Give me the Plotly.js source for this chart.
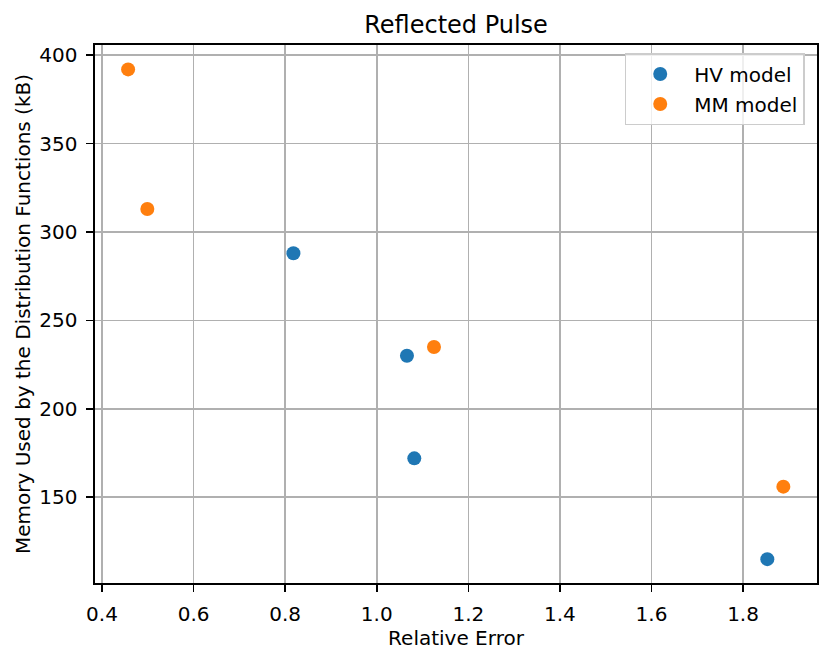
<!DOCTYPE html>
<html>
<head>
<meta charset="utf-8">
<script src="https://cdn.plot.ly/plotly-3.0.1.min.js"></script>
<style>html,body{margin:0;padding:0;background:#fff;}#chart{width:831px;height:659px;}</style>
</head>
<body>
<div id="chart"></div>
<script>
const seriesNames = ["HV model", "MM model"];
const hvError = [0.818, 1.066, 1.082, 1.853];
const hvMemory = [288, 230, 172, 115];
const mmError = [0.457, 0.499, 1.125, 1.888];
const mmMemory = [392, 313, 235, 156];
const xTicks = [0.4, 0.6, 0.8, 1.0, 1.2, 1.4, 1.6, 1.8];
const xTickText = ["0.4", "0.6", "0.8", "1.0", "1.2", "1.4", "1.6", "1.8"];
const yTicks = [150, 200, 250, 300, 350, 400];

const font = "DejaVu Sans, sans-serif";
const traces = [
  {x: hvError, y: hvMemory, name: seriesNames[0], type: "scatter", mode: "markers",
   legendgroup: "a", marker: {color: "#1f77b4", size: 14}},
  {x: mmError, y: mmMemory, name: seriesNames[1], type: "scatter", mode: "markers",
   legendgroup: "b", marker: {color: "#ff7f0e", size: 14}}
];
const axisCommon = {
  showline: true, mirror: true, linecolor: "#000", linewidth: 1.6,
  ticks: "outside", ticklen: 7, tickwidth: 1.6, tickcolor: "#000",
  showgrid: true, gridcolor: "#b0b0b0", gridwidth: 1.6, zeroline: false,
  tickfont: {family: font, size: 20, color: "#000"}, ticklabelstandoff: 5
};
const layout = {
  width: 831, height: 659,
  margin: {l: 95, r: 14, t: 45, b: 76},
  paper_bgcolor: "#fff", plot_bgcolor: "#fff",
  font: {family: font, color: "#000"},
  title: {text: "Reflected Pulse", font: {family: font, size: 24, color: "#000"},
          x: 0.5488, xanchor: "center", y: 0.962, yref: "container", yanchor: "middle"},
  xaxis: Object.assign({}, axisCommon, {
    range: [0.3847, 1.9615], tickvals: xTicks, ticktext: xTickText,
    title: {text: "Relative Error", font: {family: font, size: 20, color: "#000"}, standoff: 4}
  }),
  yaxis: Object.assign({}, axisCommon, {
    range: [101.5, 405.8], tickvals: yTicks,
    title: {text: "Memory Used by the Distribution Functions (kB)", font: {family: font, size: 20, color: "#000"}, standoff: 3}
  }),
  showlegend: true,
  legend: {x: 0.983, xanchor: "right", y: 0.985, yanchor: "top",
           bgcolor: "rgba(255,255,255,0.8)", bordercolor: "#cccccc", borderwidth: 1.5,
           font: {family: font, size: 20, color: "#000"}, itemwidth: 58,
           traceorder: "grouped", tracegroupgap: 1}
};
Plotly.newPlot("chart", traces, layout, {displayModeBar: false, staticPlot: true});
</script>
</body>
</html>
